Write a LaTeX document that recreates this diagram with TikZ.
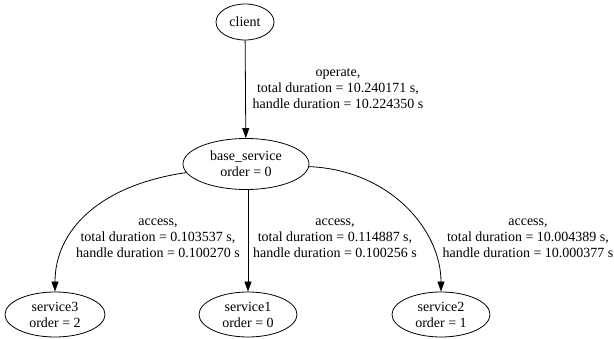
\documentclass[tikz,border=0pt]{standalone}
\usepackage{fontspec}
\setmainfont{Liberation Serif}
\usetikzlibrary{arrows.meta,shapes.geometric}
\begin{document}
\begin{tikzpicture}[x=1pt,y=-1pt,
  every node/.style={font=\fontsize{14}{16}\selectfont},
  gnode/.style={draw,ellipse,inner sep=0pt,align=center,line width=0.8pt},
  lbl/.style={align=center,inner sep=0pt},
  edge/.style={draw,line width=0.8pt,-{Triangle[length=10pt,width=7pt]}}]
\useasboundingbox (0,0) rectangle (614,339);
\node[gnode,minimum width=58pt,minimum height=36pt] (client) at (245,22) {client};
\node[gnode,minimum width=126pt,minimum height=51pt] (base) at (246,164) {base\_service\\order = 0};
\node[gnode,minimum width=100pt,minimum height=45pt] (s3) at (55,314.5) {service3\\order = 2};
\node[gnode,minimum width=98pt,minimum height=45pt] (s1) at (248,314.5) {service1\\order = 0};
\node[gnode,minimum width=98pt,minimum height=45pt] (s2) at (441,314.5) {service2\\order = 1};
\node[lbl] (l0) at (338,89) {operate,\\total duration = 10.240171 s,\\handle duration = 10.224350 s};
\node[lbl] (l3) at (158,238) {access,\\total duration = 0.103537 s,\\handle duration = 0.100270 s};
\node[lbl] (l1) at (335,238) {access,\\total duration = 0.114887 s,\\handle duration = 0.100256 s};
\node[lbl] (l2) at (528,238) {access,\\total duration = 10.004389 s,\\handle duration = 10.000377 s};
\draw[edge] (client) -- (base);
\draw[edge] (base) .. controls (100,185) and (55,230) .. (s3);
\draw[edge] (base.south -| s1) -- (s1);
\draw[edge] (base) .. controls (390,170) and (441,230) .. (s2);
\end{tikzpicture}
\end{document}
